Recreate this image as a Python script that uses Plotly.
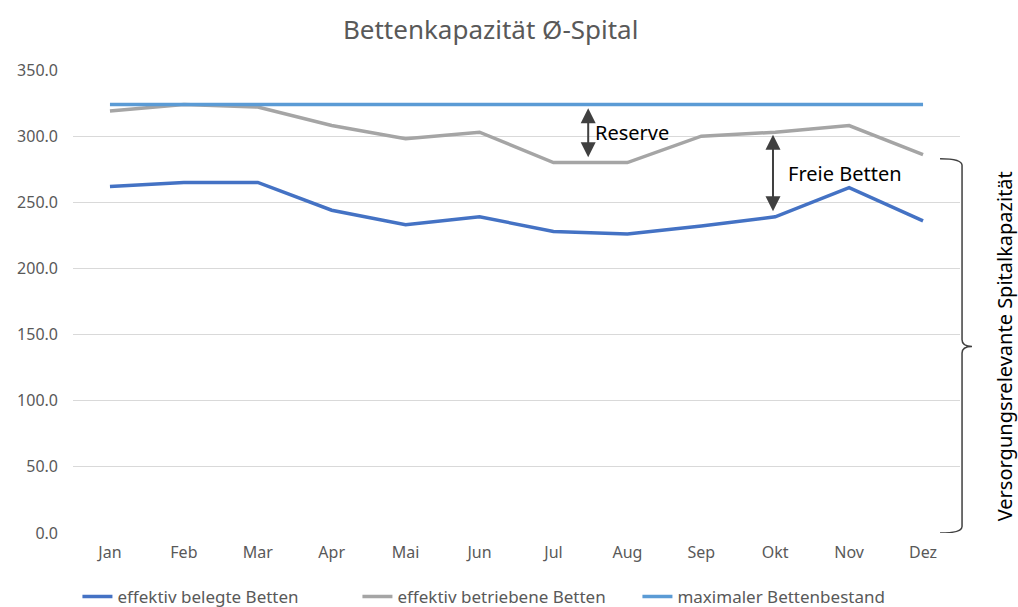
import plotly.graph_objects as go

months = ["Jan", "Feb", "Mar", "Apr", "Mai", "Jun", "Jul", "Aug", "Sep", "Okt", "Nov", "Dez"]
belegt = [262, 265, 265, 244, 233, 239, 228, 226, 232, 239, 261, 236]
betrieben = [319, 324, 322, 308, 298, 303, 280, 280, 300, 303, 308, 286]
maximal = [324] * 12
yticks = [0, 50, 100, 150, 200, 250, 300, 350]

FONT = "Noto Sans, Open Sans, sans-serif"
GREY = "#595959"

fig = go.Figure()
fig.add_trace(go.Scatter(x=months, y=belegt, mode="lines", name="effektiv belegte Betten",
                         line=dict(color="#4472C4", width=3.5)))
fig.add_trace(go.Scatter(x=months, y=betrieben, mode="lines", name="effektiv betriebene Betten",
                         line=dict(color="#A5A5A5", width=3.5)))
fig.add_trace(go.Scatter(x=months, y=maximal, mode="lines", name="maximaler Bettenbestand",
                         line=dict(color="#5B9BD5", width=3.5)))

annots = []
# Reserve arrow
annots.append(dict(x=6.47, y=321, ax=6.47, ay=283, xref="x", yref="y", axref="x", ayref="y",
                   text="", showarrow=True, arrowhead=2, startarrowhead=2, arrowside="end+start",
                   arrowsize=1.5, startarrowsize=1.5, arrowwidth=2, arrowcolor="#404040"))
annots.append(dict(x=6.54, y=303, xref="x", yref="y", text="Reserve", showarrow=False,
                   xanchor="left", yanchor="middle", font=dict(family=FONT, size=20, color="#000000")))
# Freie Betten arrow
annots.append(dict(x=8.97, y=301, ax=8.97, ay=242, xref="x", yref="y", axref="x", ayref="y",
                   text="", showarrow=True, arrowhead=2, startarrowhead=2, arrowside="end+start",
                   arrowsize=1.5, startarrowsize=1.5, arrowwidth=2, arrowcolor="#404040"))
annots.append(dict(x=9.15, y=272, xref="x", yref="y", text="Freie Betten", showarrow=False,
                   xanchor="left", yanchor="middle", font=dict(family=FONT, size=20, color="#000000")))
# rotated bracket label
annots.append(dict(x=1.0505, y=141, xref="paper", yref="y", text="Versorgungsrelevante Spitalkapazität",
                   showarrow=False, textangle=-90, xanchor="center", yanchor="middle",
                   font=dict(family=FONT, size=20, color="#000000")))

# curly brace on the right (paper x, data y)
x0, x1, x2 = 0.9775, 1.0023, 1.0135
yt, ym, yb = 283, 141, 0
r = 5
brace = (f"M {x0},{yt} Q {x1},{yt} {x1},{yt-r} "
         f"L {x1},{ym+r} Q {x1},{ym} {x2},{ym} "
         f"Q {x1},{ym} {x1},{ym-r} "
         f"L {x1},{yb+r} Q {x1},{yb} {x0},{yb}")
shapes = [dict(type="path", path=brace, xref="paper", yref="y",
               line=dict(color="#404040", width=1.5))]

fig.update_layout(
    width=1018, height=607,
    margin=dict(l=73, r=58, t=70, b=74, autoexpand=False),
    paper_bgcolor="white", plot_bgcolor="white",
    title=dict(text="Bettenkapazität Ø-Spital", x=0.482, xanchor="center",
               yref="container", y=0.95, yanchor="middle",
               font=dict(family=FONT, size=26, color=GREY)),
    xaxis=dict(range=[-0.5, 11.5], showgrid=False, zeroline=False, showline=False, ticks="",
               automargin=False, ticklabelstandoff=8,
               tickfont=dict(family=FONT, size=16, color=GREY)),
    yaxis=dict(range=[0, 350], tickvals=yticks, tickformat=".1f", showgrid=True, gridcolor="#D9D9D9",
               gridwidth=1, zeroline=False, showline=False, ticks="", automargin=False,
               ticklabelstandoff=14, tickfont=dict(family=FONT, size=16, color=GREY)),
    legend=dict(orientation="h", x=0.005, xanchor="left", yref="container", y=0.0165, yanchor="middle",
                font=dict(family=FONT, size=17, color=GREY), entrywidth=235),
    annotations=annots, shapes=shapes,
)

fig.write_html("out.html", config={"displayModeBar": False},
               post_script="document.body.style.margin='0';")
